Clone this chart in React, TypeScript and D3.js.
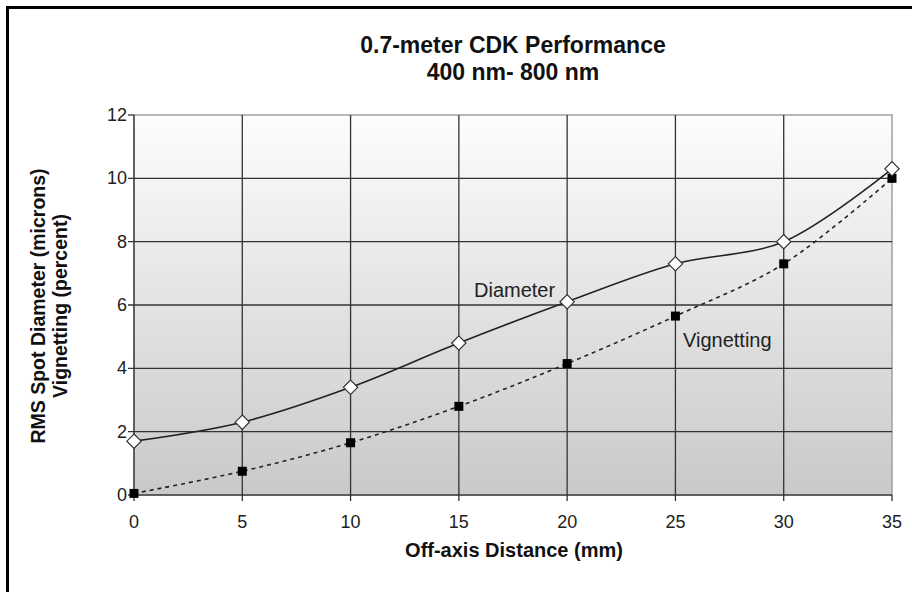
import React, { useRef, useEffect } from "react";
import * as d3 from "d3";

const distances = [0, 5, 10, 15, 20, 25, 30, 35];
const diameter = [1.7, 2.3, 3.4, 4.8, 6.1, 7.3, 8.0, 10.3];
const vignetting = [0.05, 0.75, 1.65, 2.8, 4.15, 5.65, 7.3, 10.0];
const xTicks = [0, 5, 10, 15, 20, 25, 30, 35];
const yTicks = [0, 2, 4, 6, 8, 10, 12];

const W = 912;
const H = 592;
const FONT = "'Liberation Sans', Arial, sans-serif";

const App = () => {
  const svgRef = useRef<SVGSVGElement>(null);

  useEffect(() => {
    const svg = d3.select(svgRef.current);
    svg.selectAll("*").remove();

    const left = 134, right = 892, top = 115, bottom = 495;

    const x = d3.scaleLinear().domain([0, 35]).range([left, right]);
    const y = d3.scaleLinear().domain([0, 12]).range([bottom, top]);

    // outer frame (top + left only)
    svg.append("rect").attr("width", W).attr("height", H).attr("fill", "#fff");
    svg.append("line").attr("x1", 7.5).attr("x2", W).attr("y1", 7.5).attr("y2", 7.5)
      .attr("stroke", "#000").attr("stroke-width", 3);
    svg.append("line").attr("x1", 7.5).attr("x2", 7.5).attr("y1", 6).attr("y2", H)
      .attr("stroke", "#000").attr("stroke-width", 3);

    // plot background gradient
    const grad = svg.append("defs").append("linearGradient")
      .attr("id", "bg").attr("x1", 0).attr("x2", 0).attr("y1", 0).attr("y2", 1);
    grad.append("stop").attr("offset", "0%").attr("stop-color", "#fdfdfd");
    grad.append("stop").attr("offset", "100%").attr("stop-color", "#c9c9c9");
    svg.append("rect").attr("x", left).attr("y", top)
      .attr("width", right - left).attr("height", bottom - top)
      .attr("fill", "url(#bg)").attr("stroke", "#a0a0a0").attr("stroke-width", 1.5);

    // grid
    const g = svg.append("g");
    g.selectAll(".hg").data(yTicks.filter((d) => d < 12)).enter().append("line")
      .attr("x1", left - 6).attr("x2", right)
      .attr("y1", (d) => y(d)).attr("y2", (d) => y(d))
      .attr("stroke", (d) => (d === 0 ? "#444" : "#333")).attr("stroke-width", 1.3);
    g.append("line").attr("x1", left - 6).attr("x2", left)
      .attr("y1", y(12)).attr("y2", y(12)).attr("stroke", "#333").attr("stroke-width", 1.3);
    g.selectAll(".vg").data(xTicks.filter((d) => d < 35)).enter().append("line")
      .attr("x1", (d) => x(d)).attr("x2", (d) => x(d))
      .attr("y1", top).attr("y2", bottom + 6)
      .attr("stroke", "#333").attr("stroke-width", 1.3);
    g.append("line").attr("x1", x(35)).attr("x2", x(35))
      .attr("y1", bottom).attr("y2", bottom + 6).attr("stroke", "#333").attr("stroke-width", 1.3);

    // tick labels
    svg.selectAll(".yl").data(yTicks).enter().append("text")
      .attr("x", left - 7).attr("y", (d) => y(d) + 6)
      .attr("text-anchor", "end").attr("font-family", FONT).attr("font-size", 18)
      .attr("fill", "#222").text((d) => d);
    svg.selectAll(".xl").data(xTicks).enter().append("text")
      .attr("x", (d) => x(d)).attr("y", bottom + 33)
      .attr("text-anchor", "middle").attr("font-family", FONT).attr("font-size", 18)
      .attr("fill", "#222").text((d) => d);

    // titles
    svg.append("text").attr("x", 513).attr("y", 53).attr("text-anchor", "middle")
      .attr("font-family", FONT).attr("font-weight", "bold").attr("font-size", 23)
      .attr("fill", "#111").text("0.7-meter CDK Performance");
    svg.append("text").attr("x", 513).attr("y", 80).attr("text-anchor", "middle")
      .attr("font-family", FONT).attr("font-weight", "bold").attr("font-size", 23)
      .attr("fill", "#111").text("400 nm- 800 nm");
    svg.append("text").attr("x", 514).attr("y", 557).attr("text-anchor", "middle")
      .attr("font-family", FONT).attr("font-weight", "bold").attr("font-size", 20)
      .attr("fill", "#111").text("Off-axis Distance (mm)");
    const yt = svg.append("text").attr("transform", "translate(45,306) rotate(-90)")
      .attr("text-anchor", "middle").attr("font-family", FONT)
      .attr("font-weight", "bold").attr("font-size", 19.5).attr("fill", "#111");
    yt.append("tspan").attr("x", 0).attr("dy", 0).text("RMS Spot Diameter (microns)");
    yt.append("tspan").attr("x", 0).attr("dy", 22).text("Vignetting (percent)");

    // lines
    const line = d3.line<number>()
      .x((_, i) => x(distances[i]))
      .y((d) => y(d))
      .curve(d3.curveCatmullRom.alpha(0.5));

    svg.append("path").attr("d", line(vignetting)).attr("fill", "none")
      .attr("stroke", "#222").attr("stroke-width", 1.6).attr("stroke-dasharray", "4,4");
    svg.append("path").attr("d", line(diameter)).attr("fill", "none")
      .attr("stroke", "#222").attr("stroke-width", 1.6);

    // markers
    svg.selectAll(".sq").data(vignetting).enter().append("rect")
      .attr("x", (_, i) => x(distances[i]) - 4.5).attr("y", (d) => y(d) - 4.5)
      .attr("width", 9).attr("height", 9).attr("fill", "#000");
    const diamond = d3.symbol().type(d3.symbolDiamond2).size(130);
    svg.selectAll(".dm").data(diameter).enter().append("path")
      .attr("d", diamond)
      .attr("transform", (d, i) => `translate(${x(distances[i])},${y(d)})`)
      .attr("fill", "#fff").attr("stroke", "#333").attr("stroke-width", 1.2);

    // series labels
    svg.append("text").attr("x", 474).attr("y", 297)
      .attr("font-family", FONT).attr("font-size", 20).attr("fill", "#222").text("Diameter");
    svg.append("text").attr("x", 683).attr("y", 347)
      .attr("font-family", FONT).attr("font-size", 20).attr("fill", "#222").text("Vignetting");
  });

  return (
    <div style={{ position: "absolute", left: 0, top: 0 }}>
      <svg ref={svgRef} width={W} height={H}></svg>
    </div>
  );
};

export default App;
